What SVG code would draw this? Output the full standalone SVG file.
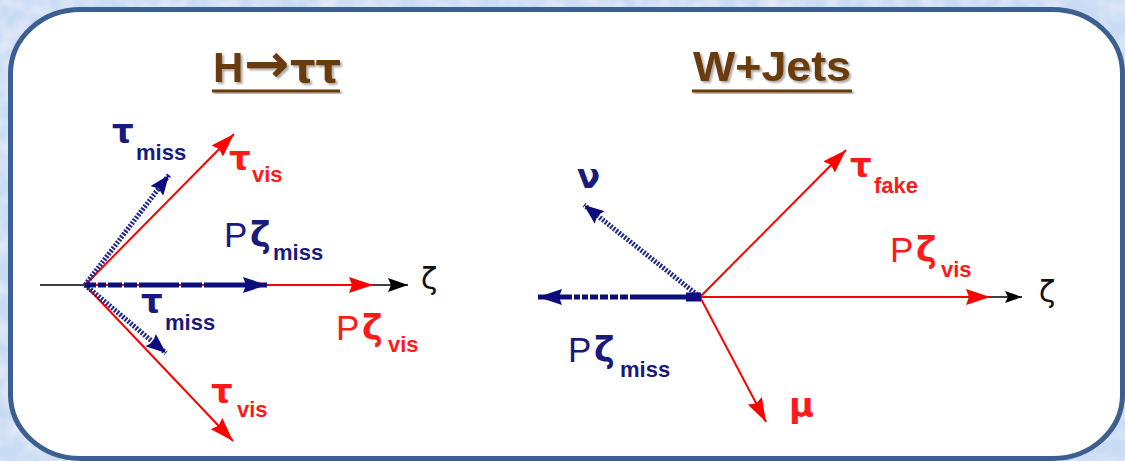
<svg xmlns="http://www.w3.org/2000/svg" width="1125" height="461" viewBox="0 0 1125 461">
<style>
.lbl{font-family:"Liberation Sans",Arial,sans-serif}
.gk{font-family:"DejaVu Sans","Liberation Sans",sans-serif}
.nv{fill:#1a1a7e}
.rd{fill:#ff1a1a}
.g{font-size:34px;font-weight:bold}
.s{font-size:22px;font-weight:bold}
.p{font-size:35px}
.z{font-size:30px;fill:#111}
.ttl{font-family:"Liberation Sans",Arial,sans-serif;font-size:42px;font-weight:bold;fill:#6b3a08}
.red{stroke:#ff0000;stroke-width:2;fill:none}
.blk{stroke:#000;stroke-width:1.6;fill:none}
.bdash{stroke:#0c0c7c;stroke-width:5;fill:none}
.bdot{stroke:#1f2888;stroke-width:5;stroke-dasharray:2 1.5;fill:none}
</style>
<defs>
<filter id="tex" x="0" y="0" width="100%" height="100%">
<feTurbulence type="fractalNoise" baseFrequency="0.05" numOctaves="2" seed="7" result="n"/>
<feColorMatrix in="n" type="matrix" values="0 0 0 0 0.93  0 0 0 0 0.90  0 0 0 0 1  1.3 0 0 0 -0.5"/>
</filter>
<filter id="sh" x="-10%" y="-10%" width="130%" height="140%">
<feDropShadow dx="2" dy="2" stdDeviation="1.2" flood-color="#000" flood-opacity="0.35"/>
</filter>
<marker id="ar" viewBox="0 0 24 16" refX="24" refY="8" markerWidth="24" markerHeight="16" markerUnits="userSpaceOnUse" orient="auto">
<path d="M0,0 L24,8 L0,16 L3,8 Z" fill="#ff0000"/>
</marker>
<marker id="ab" viewBox="0 0 24 16" refX="24" refY="8" markerWidth="24" markerHeight="16" markerUnits="userSpaceOnUse" orient="auto">
<path d="M0,0 L24,8 L0,16 L3,8 Z" fill="#0c0c7c"/>
</marker>
<marker id="ab2" viewBox="0 0 20 16" refX="20" refY="8" markerWidth="20" markerHeight="16" markerUnits="userSpaceOnUse" orient="auto">
<path d="M0,0 L20,8 L0,16 L3,8 Z" fill="#0c0c7c"/>
</marker>
<marker id="ak" viewBox="0 0 20 14" refX="20" refY="7" markerWidth="20" markerHeight="14" markerUnits="userSpaceOnUse" orient="auto">
<path d="M0,0 L20,7 L0,14 L3,7 Z" fill="#000"/>
</marker>
<marker id="ak2" viewBox="0 0 17 12" refX="17" refY="6" markerWidth="17" markerHeight="12" markerUnits="userSpaceOnUse" orient="auto">
<path d="M0,0 L17,6 L0,12 L3,6 Z" fill="#000"/>
</marker>
</defs>

<g id="background">
<rect x="0" y="0" width="1125" height="461" fill="#c9dcf3"/>
<rect x="0" y="0" width="1125" height="461" filter="url(#tex)"/>
<rect x="10.5" y="9.5" width="1112" height="449" rx="70" ry="64" fill="#fff" stroke="#3a5f90" stroke-width="5"/>
</g>

<g id="title-htautau">
<text class="ttl" filter="url(#sh)"><tspan x="213" y="82">H</tspan><tspan class="gk" x="244" y="82" font-size="54px">→</tspan><tspan class="gk" x="290" y="82" font-size="40px">ττ</tspan></text>
<rect x="212" y="89.5" width="128" height="3" fill="#6b3a08" filter="url(#sh)"/>
</g>
<g id="title-wjets">
<text class="ttl" x="693" y="81" textLength="158" lengthAdjust="spacingAndGlyphs" filter="url(#sh)">W+Jets</text>
<rect x="692" y="89.5" width="160" height="3" fill="#6b3a08" filter="url(#sh)"/>
</g>

<g id="connectors">
<line class="blk" x1="40" y1="285" x2="408" y2="285" marker-end="url(#ak)"/>
<line class="red" x1="85" y1="285" x2="373" y2="285" marker-end="url(#ar)"/>
<line class="red" x1="85" y1="285" x2="234" y2="134" marker-end="url(#ar)"/>
<line class="red" x1="85" y1="285" x2="233" y2="441" marker-end="url(#ar)"/>
<line class="bdot" x1="85" y1="285" x2="169" y2="175" marker-end="url(#ab2)"/>
<line class="bdot" x1="85" y1="285" x2="166" y2="353" marker-end="url(#ab2)"/>
<line class="bdash" x1="85" y1="285" x2="267" y2="285" stroke-dasharray="11 2 8 2 14 2 13 2 40 2 21 2 80" marker-end="url(#ab)"/>
<line class="blk" x1="700" y1="297" x2="1022" y2="297" marker-end="url(#ak2)"/>
<line class="red" x1="700" y1="297" x2="990" y2="297" marker-end="url(#ar)"/>
<line class="red" x1="700" y1="297" x2="846" y2="150" marker-end="url(#ar)"/>
<line class="red" x1="700" y1="297" x2="766" y2="422" marker-end="url(#ar)"/>
<line class="bdot" x1="700" y1="297" x2="584" y2="205" stroke-width="4" marker-end="url(#ab2)"/>
<line class="bdash" x1="700" y1="297" x2="538" y2="297" stroke-dasharray="70 2 8 2 8 2 8 2 8 2 6 2 6 2 60" marker-end="url(#ab)"/>
<rect x="686" y="292.5" width="15" height="9" fill="#0c0c7c"/>
</g>

<g id="label-tau-miss-up">
<text class="lbl nv"><tspan class="gk g" x="112" y="143">τ</tspan><tspan class="s" x="136" y="160">miss</tspan></text>
</g>
<g id="label-tau-vis-up">
<text class="lbl rd"><tspan class="gk g" x="229" y="170">τ</tspan><tspan class="s" x="252" y="182">vis</tspan></text>
</g>
<g id="label-pz-miss-left">
<text class="lbl nv"><tspan class="p" x="224" y="247">P</tspan><tspan class="gk p" x="250" font-weight="bold">ζ</tspan><tspan class="s" x="273" y="260">miss</tspan></text>
</g>
<g id="label-tau-miss-down">
<text class="lbl nv"><tspan class="gk g" x="141" y="313">τ</tspan><tspan class="s" x="165" y="330">miss</tspan></text>
</g>
<g id="label-pz-vis-left">
<text class="lbl rd"><tspan class="p" x="336" y="340">P</tspan><tspan class="gk p" x="362" font-weight="bold">ζ</tspan><tspan class="s" x="388" y="352">vis</tspan></text>
</g>
<g id="label-tau-vis-down">
<text class="lbl rd"><tspan class="gk g" x="211" y="403">τ</tspan><tspan class="s" x="237" y="417">vis</tspan></text>
</g>
<g id="label-zeta-left">
<text class="gk z" x="421" y="289">ζ</text>
</g>

<g id="label-nu">
<text class="gk nv g" x="577" y="188">ν</text>
</g>
<g id="label-tau-fake">
<text class="lbl rd"><tspan class="gk g" x="850" y="177">τ</tspan><tspan class="s" x="874" y="193">fake</tspan></text>
</g>
<g id="label-pz-vis-right">
<text class="lbl rd"><tspan class="p" x="890" y="262">P</tspan><tspan class="gk p" x="916" font-weight="bold">ζ</tspan><tspan class="s" x="941" y="277">vis</tspan></text>
</g>
<g id="label-pz-miss-right">
<text class="lbl nv"><tspan class="p" x="568" y="362">P</tspan><tspan class="gk p" x="594" font-weight="bold">ζ</tspan><tspan class="s" x="620" y="377">miss</tspan></text>
</g>
<g id="label-mu">
<text class="gk rd g" x="789" y="417" font-size="30">μ</text>
</g>
<g id="label-zeta-right">
<text class="gk z" x="1039" y="302">ζ</text>
</g>
</svg>
